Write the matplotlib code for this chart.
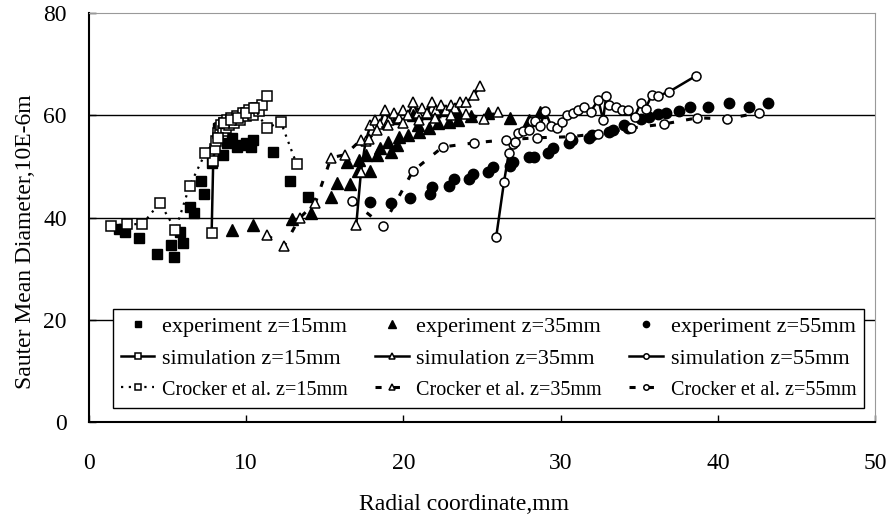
import matplotlib
matplotlib.use("Agg")
import matplotlib.pyplot as plt

plt.rcParams["font.family"] = ["Liberation Serif", "DejaVu Serif"]

# ---- data ----
exp15_x = [1.9, 2.3, 3.2, 4.3, 5.2, 5.4, 5.8, 6.0, 6.4, 6.7, 7.1, 7.3, 7.8, 8.2, 8.5,
           8.8, 9.1, 9.4, 9.7, 10.0, 10.3, 10.4, 11.7, 12.8, 13.9]
exp15_y = [37.8, 37.2, 36.0, 32.9, 34.6, 32.3, 37.2, 35.0, 42.1, 40.9, 47.2, 44.6, 50.7,
           57.5, 52.2, 54.6, 55.5, 53.8, 54.2, 54.5, 53.8, 55.2, 52.8, 47.2, 44.0]

exp35_x = [9.1, 10.4, 12.9, 14.1, 15.4, 15.8, 16.4, 16.6, 17.1, 17.2, 17.6, 17.9, 18.3,
           18.5, 19.0, 19.2, 19.6, 19.7, 20.3, 20.9, 21.0, 21.6, 22.2, 22.9, 23.5, 24.3,
           25.4, 26.8, 28.0, 28.7, 19.5, 20.6, 21.5, 22.5, 23.4]
exp35_y = [37.6, 38.5, 39.7, 40.9, 44.0, 46.8, 50.9, 46.6, 49.1, 51.3, 52.3, 49.1, 52.3,
           53.6, 54.8, 52.8, 54.2, 55.8, 56.2, 58.1, 56.8, 57.5, 58.5, 58.7, 59.1, 59.9,
           60.5, 59.5, 59.1, 60.7, 59.5, 60.0, 60.5, 61.0, 60.8]

exp55_x = [17.9, 19.2, 20.4, 21.7, 21.8, 22.9, 23.2, 24.2, 24.4, 25.4, 25.7, 26.8, 27.0,
           28.0, 28.3, 29.2, 29.5, 30.5, 30.7, 31.8, 32.0, 33.1, 33.3, 34.0, 34.3, 35.1,
           35.6, 36.2, 36.7, 37.5, 38.2, 39.4, 40.7, 42.0, 43.2]
exp55_y = [43.1, 42.9, 43.8, 44.6, 46.0, 46.2, 47.6, 47.6, 48.5, 48.9, 49.9, 50.1, 50.9,
           51.9, 51.9, 52.6, 53.6, 54.6, 55.2, 55.6, 56.2, 56.8, 57.1, 58.1, 57.5, 59.3,
           59.7, 60.3, 60.5, 60.9, 61.6, 61.6, 62.4, 61.6, 62.4]

sim15_x = [7.8, 7.9, 8.0, 8.1, 8.2, 8.3, 8.4, 8.5, 8.6, 8.7, 8.8, 8.9, 9.0, 9.2, 9.4,
           9.6, 9.8, 10.0, 10.2, 10.4, 10.6, 10.8, 11.0, 11.3]
sim15_y = [37.0, 51.0, 53.5, 55.0, 56.5, 57.5, 58.0, 57.0, 58.5, 57.5, 59.0, 58.0, 59.5,
           58.5, 59.8, 59.0, 60.5, 59.8, 61.0, 60.0, 61.5, 60.8, 62.0, 63.8]

sim35_x = [17.0, 17.3, 17.6, 17.9, 18.2, 18.5, 18.8, 19.1, 19.4, 19.7, 20.0, 20.3, 20.6,
           20.9, 21.2, 21.5, 21.8, 22.1, 22.4, 22.7, 23.0, 23.3, 23.6, 24.0, 24.5, 24.9]
sim35_y = [38.6, 49.0, 55.0, 58.0, 59.0, 58.3, 61.0, 59.0, 60.5, 59.5, 61.0, 60.0, 62.5,
           60.5, 61.5, 60.5, 62.5, 61.0, 62.0, 61.0, 62.0, 61.5, 62.5, 62.5, 64.0, 65.8]

sim55_x = [25.9, 26.4, 26.7, 27.0, 27.1, 27.3, 27.6, 28.0, 28.2, 28.4, 28.7, 29.0, 29.4,
           29.8, 30.1, 30.4, 30.8, 31.1, 31.5, 31.9, 32.4, 32.7, 32.9, 33.1, 33.5, 33.9,
           34.3, 34.7, 35.1, 35.4, 35.8, 36.2, 36.9, 38.6]
sim55_y = [36.2, 47.0, 52.6, 54.4, 54.8, 56.6, 56.9, 57.1, 58.9, 58.9, 57.9, 60.9, 57.9,
           57.5, 58.7, 60.1, 60.5, 61.1, 61.6, 60.7, 63.0, 59.1, 63.8, 62.0, 61.6, 61.1,
           61.1, 59.7, 62.4, 61.3, 64.0, 63.8, 64.6, 67.7]

cro15_x = [1.4, 2.4, 3.4, 4.5, 5.5, 6.4, 7.4, 8.2, 8.6, 9.0, 9.5, 10.0, 10.5, 11.3, 12.2, 13.2]
cro15_y = [38.4, 38.7, 38.7, 42.9, 37.6, 46.2, 52.6, 55.6, 58.5, 59.0, 59.5, 60.5, 61.5,
           57.5, 58.7, 50.5]

cro35_x = [11.3, 12.4, 13.4, 14.4, 15.4, 16.3, 17.3, 17.8, 18.3, 19.0, 20.0, 21.0, 22.0,
           23.0, 24.0, 25.1, 26.0]
cro35_y = [36.6, 34.4, 39.9, 42.9, 51.7, 52.3, 55.2, 55.4, 57.1, 58.0, 58.5, 59.0, 59.5,
           60.0, 60.3, 59.3, 60.7]

cro55_x = [16.75, 18.7, 20.6, 22.5, 24.5, 26.5, 28.5, 30.6, 32.4, 34.5, 36.6, 38.7, 40.6, 42.6]
cro55_y = [43.2, 38.4, 49.1, 53.8, 54.6, 55.2, 55.6, 55.8, 56.4, 57.5, 58.3, 59.5, 59.3, 60.5]

fig = plt.figure(figsize=(8.92, 5.21), dpi=100)
ax = fig.add_axes([0.0998, 0.190, 0.8812, 0.785])

h = {}
h["e15"], = ax.plot(exp15_x, exp15_y, ls="none", marker="s", ms=7.5, color="black")
h["e35"], = ax.plot(exp35_x, exp35_y, ls="none", marker="^", ms=8.5, color="black")
h["e55"], = ax.plot(exp55_x, exp55_y, ls="none", marker="o", ms=7.5, color="black")

open_kw = dict(mfc="white", mec="black", mew=1.1, color="black")
h["s15"], = ax.plot(sim15_x, sim15_y, "-", lw=1.8, marker="s", ms=6.5, **open_kw)
h["s35"], = ax.plot(sim35_x, sim35_y, "-", lw=1.8, marker="^", ms=7.5, **open_kw)
h["s55"], = ax.plot(sim55_x, sim55_y, "-", lw=1.8, marker="o", ms=6.5, **open_kw)

h["c15"], = ax.plot(cro15_x, cro15_y, ls=(0, (1, 2.5)), lw=1.6, marker="s", ms=6.5, **open_kw)
h["c35"], = ax.plot(cro35_x, cro35_y, ls=(0, (2, 4)), lw=2.2, marker="^", ms=7.5, **open_kw)
h["c55"], = ax.plot(cro55_x, cro55_y, ls=(0, (2, 4)), lw=2.2, marker="o", ms=6.5, **open_kw)

ax.set_xlim(0, 50)
ax.set_ylim(0, 80)
ax.set_xticks([0, 10, 20, 30, 40, 50])
ax.set_yticks([0, 20, 40, 60, 80])
ax.tick_params(direction="in", length=5, width=1, labelsize=17)
ax.tick_params(axis="x", pad=22)
ax.tick_params(axis="y", pad=16)

ax.yaxis.grid(True, color="black", lw=1)
ax.set_axisbelow(True)
ax.get_ygridlines()[-1].set_visible(False)

for s in ["top", "right"]:
    ax.spines[s].set_color("#999999")
for s in ["left", "bottom"]:
    ax.spines[s].set_color("black")
    ax.spines[s].set_linewidth(1.5)

ax.set_xlabel("Radial coordinate,mm", fontsize=17)
ax.set_ylabel("Sauter Mean Diameter,10E-6m", fontsize=17)
ax.xaxis.set_label_coords(0.477, -0.176)
ax.yaxis.set_label_coords(-0.068, 0.44)

order = ["e15", "s15", "c15", "e35", "s35", "c35", "e55", "s55", "c55"]
labels = {
    "e15": "experiment z=15mm", "e35": "experiment z=35mm", "e55": "experiment z=55mm",
    "s15": "simulation z=15mm", "s35": "simulation z=35mm", "s55": "simulation z=55mm",
    "c15": "Crocker et al. z=15mm", "c35": "Crocker et al. z=35mm", "c55": "Crocker et al. z=55mm",
}
leg = ax.legend([h[k] for k in order], [labels[k] for k in order], ncol=3,
                loc="lower left", bbox_to_anchor=(0.0165, 0.007, 0.9835, 0.28),
                mode="expand", fontsize=16,
                markerscale=0.6, handlelength=1.5, handletextpad=0.35,
                columnspacing=0.9, labelspacing=0.5, borderpad=0.35,
                fancybox=False, framealpha=1, edgecolor="black")
leg.get_frame().set_linewidth(1.0)
for t, k in zip(leg.get_texts(), order):
    if k.startswith("c"):
        t.set_fontsize(14.5)

fig.savefig("out.png", dpi=100)
